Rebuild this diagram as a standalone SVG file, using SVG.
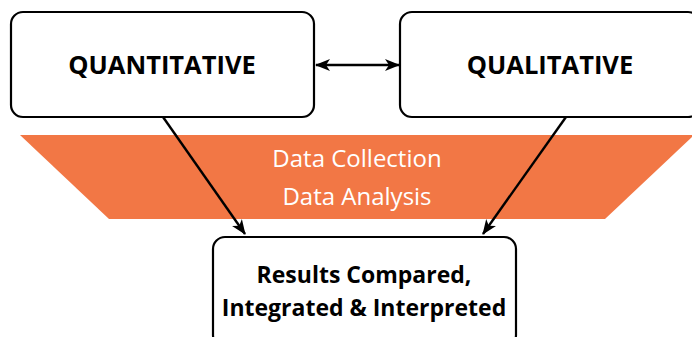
<svg xmlns="http://www.w3.org/2000/svg" width="692" height="337" viewBox="0 0 692 337">
<defs>
<style>
.box{fill:#fff;stroke:#000;stroke-width:2.2}
.title{font-family:"Open Sans","Liberation Sans",sans-serif;font-weight:bold;font-size:25.5px;fill:#000;text-anchor:middle}
.res{font-family:"Open Sans","Liberation Sans",sans-serif;font-weight:bold;font-size:23px;fill:#000;text-anchor:middle}
.band{font-family:"Open Sans","Liberation Sans",sans-serif;font-size:24px;fill:#fff;text-anchor:middle}
.conn{stroke:#000;stroke-width:2.4;fill:none}
</style>
<marker id="ah" markerUnits="userSpaceOnUse" markerWidth="16" markerHeight="14" refX="14" refY="6" orient="auto-start-reverse" overflow="visible">
<path d="M0,0 L15,6 L0,12 L4,6 z" fill="#000"/>
</marker>
</defs>
<rect width="692" height="337" fill="#fff"/>
<g id="band">
<polygon points="20,135 694,135 605,219 109,219" fill="#F27745"/>
<text class="band" x="357" y="167">Data Collection</text>
<text class="band" x="357" y="205">Data Analysis</text>
</g>
<g id="quantitative">
<rect class="box" x="11" y="12" width="303" height="105" rx="12"/>
<text class="title" x="162" y="74">QUANTITATIVE</text>
</g>
<g id="qualitative">
<rect class="box" x="400" y="12" width="300" height="105" rx="12"/>
<text class="title" x="550" y="74">QUALITATIVE</text>
</g>
<g id="results">
<rect class="box" x="213" y="237" width="303" height="110" rx="12"/>
<text class="res" x="364" y="283">Results Compared,</text>
<text class="res" x="364" y="316">Integrated &amp; Interpreted</text>
</g>
<g id="connectors">
<line class="conn" x1="316" y1="65" x2="399" y2="65" marker-start="url(#ah)" marker-end="url(#ah)"/>
<line class="conn" x1="163" y1="117" x2="245" y2="234" marker-end="url(#ah)"/>
<line class="conn" x1="566" y1="117" x2="483" y2="234" marker-end="url(#ah)"/>
</g>
</svg>
